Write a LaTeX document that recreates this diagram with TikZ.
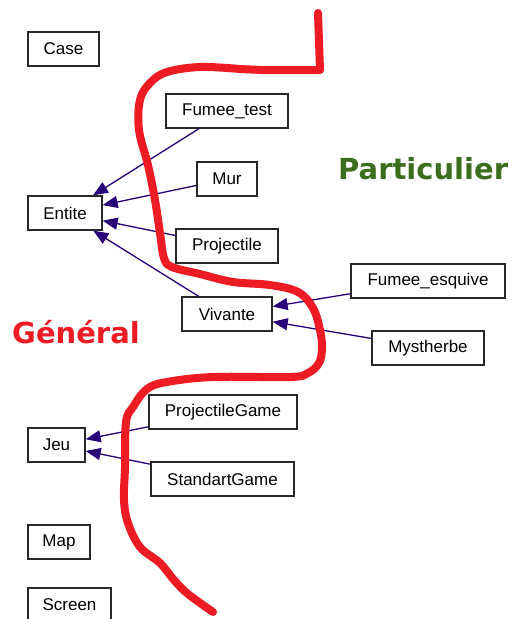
\documentclass[tikz,border=0pt]{standalone}
\usepackage{fontspec}
\setmainfont{Liberation Sans}
\newfontfamily\bigfont{DejaVu Sans}
\usetikzlibrary{arrows.meta}
\definecolor{edgecol}{RGB}{40,0,120}
\definecolor{boxcol}{RGB}{40,40,40}
\definecolor{markred}{RGB}{237,27,36}
\definecolor{markgreen}{RGB}{58,110,28}
\tikzset{
  cls/.style={draw=boxcol, line width=1.3pt, minimum height=34pt, inner sep=0pt, font=\fontsize{17pt}{19pt}\selectfont},
  inh/.style={draw=edgecol, line width=1.3pt, -{Triangle[length=15pt,width=12pt]}},
  redline/.style={draw=markred, line width=8pt, line cap=round, line join=round},
  biglabel/.style={font=\bigfont\bfseries\fontsize{29pt}{31pt}\selectfont, anchor=base west, inner sep=0pt}
}
\begin{document}
\begin{tikzpicture}[x=1pt,y=-1pt]
\useasboundingbox (0,0) rectangle (512,619);
\fill[white] (0,0) rectangle (512,619);
\begin{scope}
\clip (0,0) rectangle (512,619);
\node[cls, minimum width=71pt] (case) at (63.5,49) {Case};
\node[cls, minimum width=122pt] (fumeetest) at (227,111) {Fumee\_test};
\node[cls, minimum width=60pt] (mur) at (227,179) {Mur};
\node[cls, minimum width=74pt] (entite) at (65,213) {Entite};
\node[cls, minimum width=102pt] (projectile) at (227,246) {Projectile};
\node[cls, minimum width=90pt] (vivante) at (227,314) {Vivante};
\node[cls, minimum width=154pt] (fumeeesquive) at (428,281) {Fumee\_esquive};
\node[cls, minimum width=112pt] (mystherbe) at (428,348) {Mystherbe};
\node[cls, minimum width=148pt] (projectilegame) at (223,412) {ProjectileGame};
\node[cls, minimum width=57pt] (jeu) at (56.5,445) {Jeu};
\node[cls, minimum width=143pt] (standartgame) at (222.5,479) {StandartGame};
\node[cls, minimum width=62pt] (map) at (59,542) {Map};
\node[cls, minimum width=83pt] (screen) at (69.5,605) {Screen};
\end{scope}

\draw[inh] (fumeetest) -- (entite);
\draw[inh] (mur) -- (entite);
\draw[inh] (projectile) -- (entite);
\draw[inh] (vivante) -- (entite);
\draw[inh] (fumeeesquive) -- (vivante);
\draw[inh] (mystherbe) -- (vivante);
\draw[inh] (projectilegame) -- (jeu);
\draw[inh] (standartgame) -- (jeu);

\draw[redline] (318,13) -- (320,70) -- (262,70)
  -- plot[smooth, tension=0.6] coordinates {(240,69) (200,67) (167,72) (150,83) (140,100) (139,130) (148,165) (155,200) (160,233) (164,258) (172,267) (200,274) (233,282) (270,285) (298,292) (313,308) (320,330) (322,348) (319,363) (308,373) (290,377) (213,377) (167,382) (147,389) (133,407) (126,422) (125,467) (124,500) (128,523) (140,547) (160,563) (174,580) (188,594) (213,612)};

\node[biglabel, text=markgreen] (particulier) at (338,179) {Particulier};
\node[biglabel, text=markred] (general) at (12,343) {Général};
\end{tikzpicture}
\end{document}
